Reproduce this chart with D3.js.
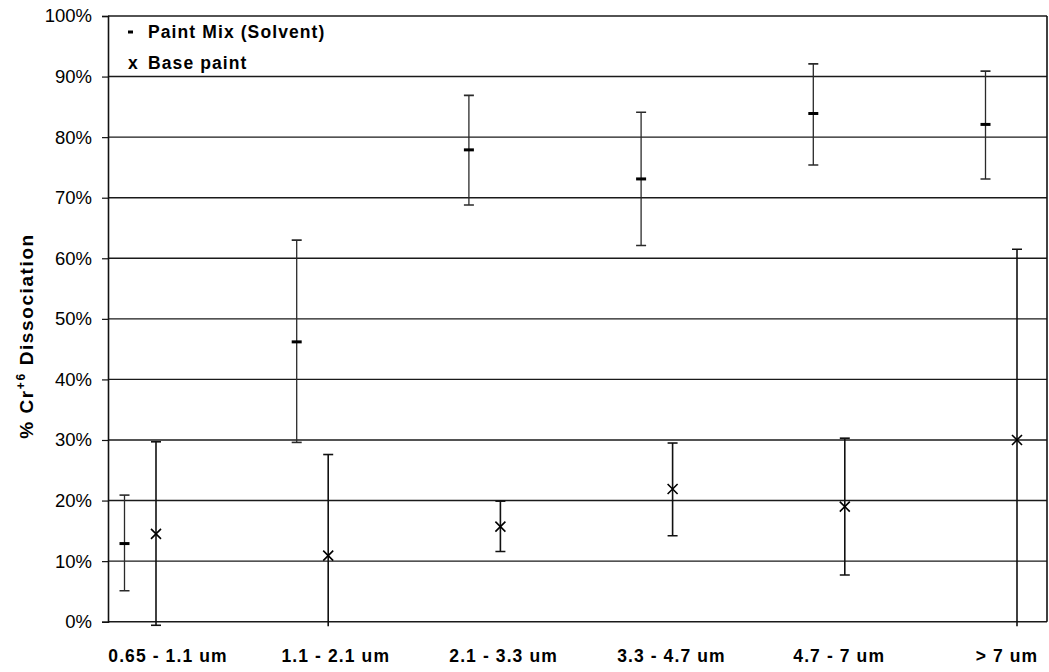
<!DOCTYPE html>
<html>
<head>
<meta charset="utf-8">
<script src="https://cdn.jsdelivr.net/npm/d3@7"></script>
<style>
  body { margin: 0; background: #fff; }
  svg { display: block; }
  .tick text { font-family: "Liberation Sans", Arial, sans-serif; }
</style>
</head>
<body>
<svg id="chart" width="1049" height="672"></svg>
<script>
// size classes
var categories = ["0.65 - 1.1 um", "1.1 - 2.1 um", "2.1 - 3.3 um", "3.3 - 4.7 um", "4.7 - 7 um", "> 7 um"];

// Paint Mix (Solvent), % values
var solventMean = [12.9, 46.2, 77.9, 73.1, 83.9, 82.1];
var solventLow  = [5.1, 29.6, 68.8, 62.1, 75.4, 73.1];
var solventHigh = [20.9, 63.0, 86.9, 84.1, 92.1, 90.9];

// Base paint, % values
var baseMean = [14.5, 10.9, 15.7, 21.9, 19.0, 30.0];
var baseLow  = [-0.6, -5, 11.6, 14.2, 7.7, -5];
var baseHigh = [29.7, 27.6, 19.9, 29.5, 30.3, 61.5];

var yTicks = [0, 10, 20, 30, 40, 50, 60, 70, 80, 90, 100];

var margin = { left: 108, right: 2, top: 16, bottom: 50.3 };
var width = 1049 - margin.left - margin.right,
    height = 672 - margin.top - margin.bottom;

var svg = d3.select("#chart");
var g = svg.append("g")
    .attr("transform", "translate(" + margin.left + "," + margin.top + ")");

// Scales
var y = d3.scaleLinear()
    .domain([0, 100])
    .range([height, 0]);

var x = d3.scalePoint()
    .domain(categories)
    .range([48, 909]);

// label positions sit a little off the markers in the original
var xLabel = d3.scalePoint()
    .domain(categories)
    .range([60, 899]);

var offset = { solvent: -31.5, base: 0 };

// gridlines
g.append("g")
    .selectAll("line")
    .data(yTicks)
    .enter().append("line")
        .attr("x1", 0)
        .attr("x2", width)
        .attr("y1", function(d){ return y(d); })
        .attr("y2", function(d){ return y(d); })
        .attr("stroke", "#1a1a1a")
        .attr("stroke-width", 1.4);

// right border
g.append("line")
    .attr("x1", width).attr("x2", width)
    .attr("y1", 0).attr("y2", height)
    .attr("stroke", "#111")
    .attr("stroke-width", 1.6);

// Y Axis
var yAxisCall = d3.axisLeft(y)
    .tickValues(yTicks)
    .tickSize(6)
    .tickPadding(10)
    .tickFormat(function(d){ return d + "%"; });
var yAxis = g.append("g")
    .attr("class", "y axis")
    .call(yAxisCall);
yAxis.select(".domain").attr("stroke", "#111").attr("stroke-width", 1.6);
yAxis.selectAll(".tick line").attr("stroke", "#111").attr("stroke-width", 1.2);
yAxis.selectAll(".tick text")
    .attr("font-size", "18.5px")
    .attr("fill", "#000");

// X labels
g.append("g")
    .selectAll("text")
    .data(categories)
    .enter().append("text")
        .attr("x", function(d){ return xLabel(d); })
        .attr("y", height + 40)
        .attr("text-anchor", "middle")
        .attr("font-family", "Liberation Sans, Arial, sans-serif")
        .attr("font-weight", "bold")
        .attr("font-size", "17.5px")
        .attr("letter-spacing", "1.1px")
        .text(function(d){ return d; });

// Y Label
var yLabel = svg.append("text")
    .attr("transform", "translate(33," + 336 + ") rotate(-90)")
    .attr("text-anchor", "middle")
    .attr("font-family", "Liberation Sans, Arial, sans-serif")
    .attr("font-weight", "bold")
    .attr("font-size", "19px")
    .attr("letter-spacing", "1.6px");
yLabel.append("tspan").text("% Cr");
yLabel.append("tspan").attr("dy", -8).attr("font-size", "12px").text("+6");
yLabel.append("tspan").attr("dy", 8).text(" Dissociation");

// clip error bars just below the axis, like the original
svg.append("defs").append("clipPath")
    .attr("id", "plotclip")
    .append("rect")
        .attr("x", -20)
        .attr("y", -10)
        .attr("width", width + 40)
        .attr("height", y(-0.75) + 10);

var bars = g.append("g").attr("clip-path", "url(#plotclip)");

function series(mean, low, high, off) {
    return categories.map(function(c, i){
        return { cat: c, mean: mean[i], low: low[i], high: high[i], cx: x(c) + off };
    });
}

var solvent = series(solventMean, solventLow, solventHigh, offset.solvent);
var base = series(baseMean, baseLow, baseHigh, offset.base);

function drawBars(data, color, sw, capW) {
    var grp = bars.append("g");
    grp.selectAll(".stem")
        .data(data)
        .enter().append("line")
            .attr("x1", function(d){ return d.cx; })
            .attr("x2", function(d){ return d.cx; })
            .attr("y1", function(d){ return y(d.high); })
            .attr("y2", function(d){ return y(d.low); })
            .attr("stroke", color)
            .attr("stroke-width", sw);
    ["high", "low"].forEach(function(k){
        grp.selectAll(".cap-" + k)
            .data(data)
            .enter().append("line")
                .attr("x1", function(d){ return d.cx - capW / 2; })
                .attr("x2", function(d){ return d.cx + capW / 2; })
                .attr("y1", function(d){ return y(d[k]); })
                .attr("y2", function(d){ return y(d[k]); })
                .attr("stroke", color)
                .attr("stroke-width", 1.6);
    });
}

drawBars(solvent, "#2a2a2a", 1.3, 10);
drawBars(base, "#111", 1.6, 10);

// Solvent markers: short dash
g.selectAll(".dash")
    .data(solvent)
    .enter().append("line")
        .attr("x1", function(d){ return d.cx - 5; })
        .attr("x2", function(d){ return d.cx + 5; })
        .attr("y1", function(d){ return y(d.mean); })
        .attr("y2", function(d){ return y(d.mean); })
        .attr("stroke", "#000")
        .attr("stroke-width", 3);

// Base markers: x
g.selectAll(".cross")
    .data(base)
    .enter().append("path")
        .attr("d", function(d){
            var cx = d.cx, cy = y(d.mean), s = 5;
            return "M" + (cx - s) + "," + (cy - s) + "L" + (cx + s) + "," + (cy + s) +
                   "M" + (cx - s) + "," + (cy + s) + "L" + (cx + s) + "," + (cy - s);
        })
        .attr("stroke", "#000")
        .attr("stroke-width", 1.6)
        .attr("fill", "none");

// Legend
var legend = g.append("g").attr("transform", "translate(20,0)");
legend.append("line")
    .attr("x1", 0).attr("x2", 5)
    .attr("y1", 16).attr("y2", 16)
    .attr("stroke", "#000")
    .attr("stroke-width", 3);
legend.append("text")
    .attr("x", 20).attr("y", 21.5)
    .attr("font-family", "Liberation Sans, Arial, sans-serif")
    .attr("font-weight", "bold")
    .attr("font-size", "17.5px")
    .attr("letter-spacing", "1.1px")
    .text("Paint Mix (Solvent)");
legend.append("text")
    .attr("x", 0).attr("y", 52.5)
    .attr("font-family", "Liberation Sans, Arial, sans-serif")
    .attr("font-weight", "bold")
    .attr("font-size", "17.5px")
    .text("x");
legend.append("text")
    .attr("x", 20).attr("y", 52.5)
    .attr("font-family", "Liberation Sans, Arial, sans-serif")
    .attr("font-weight", "bold")
    .attr("font-size", "17.5px")
    .attr("letter-spacing", "1.1px")
    .text("Base paint");
</script>
</body>
</html>
